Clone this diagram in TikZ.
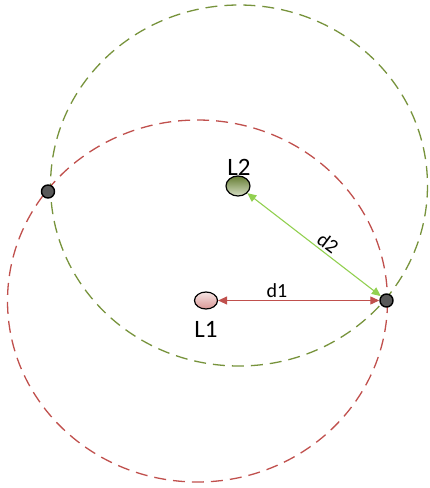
\documentclass[tikz,border=0pt]{standalone}
\usepackage{fontspec}
\setmainfont{Carlito}
\usepackage{xcolor}
\usetikzlibrary{shapes.geometric,arrows.meta}

\definecolor{ringred}{HTML}{C0504D}
\definecolor{ringgreen}{HTML}{77933C}
\definecolor{arrowgreen}{HTML}{92D050}
\definecolor{dotgray}{HTML}{595959}

\tikzset{
    ring/.style = {dash pattern=on 12pt off 7pt, line width=1.3pt},
    crosspoint/.style = {circle,draw=black,line width=1.4pt,fill=dotgray,minimum size=13pt,inner sep=0pt},
    lamp/.style = {ellipse,draw=black,line width=1.2pt,inner sep=0pt},
    tag/.style = {font=\fontsize{25}{30}\selectfont,inner sep=0pt},
    dist/.style = {line width=1.1pt,{Triangle[length=9pt,width=8pt]}-{Triangle[length=9pt,width=8pt]}}
}

\begin{document}
\begin{tikzpicture}[x=1pt,y=-1pt]
            \useasboundingbox (0, 0) rectangle (430, 488);

            % the two range circles
            \draw[ring,ringgreen] (239, 185.5) ellipse [x radius=188.5, y radius=180.5];
            \draw[ring,ringred] (197.5, 301) ellipse [x radius=190, y radius=181];

            % lamps
            \node[lamp,minimum width=24pt,minimum height=20pt,top color=ringgreen!85!black,bottom color=ringgreen!30] (L2) at (238, 186) {};
            \node[lamp,minimum width=23pt,minimum height=17pt,top color=ringred!15,bottom color=ringred!60] (L1) at (206, 300.5) {};
            \node[tag,anchor=base] (L2text) at (239, 175) {L2};
            \node[tag,anchor=base] (L1text) at (206, 337) {L1};

            % intersections
            \node[crosspoint] (P1) at (48, 191.5) {};
            \node[crosspoint] (P2) at (386.5, 300.5) {};

            % distances
            \draw[dist,ringred] (L1) -- (P2);
            \draw[dist,arrowgreen] (L2) -- (P2);
            \node[font=\fontsize{20}{24}\selectfont,anchor=base] (d1) at (277, 297) {d1};
            \node[font=\fontsize{20}{24}\selectfont,rotate=-37] (d2) at (328, 243) {d2};
        \end{tikzpicture}
\end{document}
